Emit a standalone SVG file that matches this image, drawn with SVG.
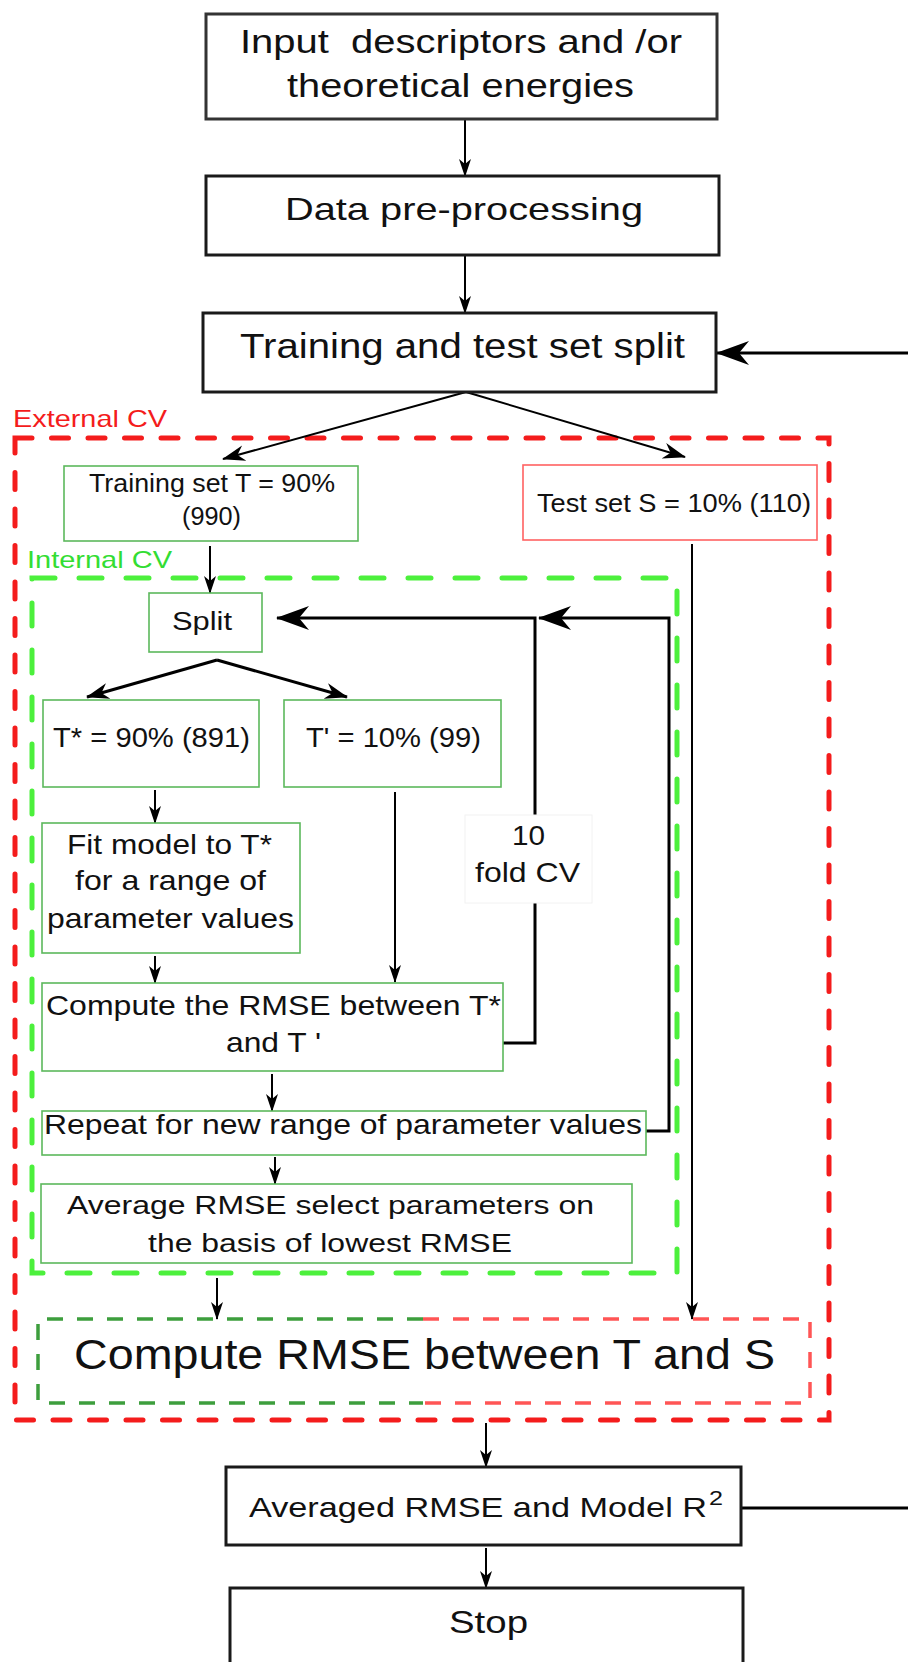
<svg xmlns="http://www.w3.org/2000/svg" width="908" height="1662" viewBox="0 0 908 1662">
<style>
text{font-family:"Liberation Sans",Arial,Helvetica,sans-serif;fill:#111}
.bk{fill:#fff;stroke:#1a1a1a;stroke-width:3}
.gn{fill:#fff;stroke:#5cb85c;stroke-width:1.6}
.rn{fill:#fff;stroke:#ff6262;stroke-width:1.6}
.c{fill:none;stroke:#000;stroke-width:2}
.c3{fill:none;stroke:#000;stroke-width:3}
.ext{fill:none;stroke:#f41c1c;stroke-width:5;stroke-dasharray:17 19.5;stroke-linecap:round}
.int{fill:none;stroke:#4cf03c;stroke-width:5;stroke-dasharray:23 24;stroke-linecap:round}
.dg{fill:none;stroke:#3d9e3d;stroke-width:3.5;stroke-dasharray:16 14}
.dr{fill:none;stroke:#ff5555;stroke-width:3.5;stroke-dasharray:16 14}
</style>
<defs>
<marker id="as" viewBox="-20 -10 22 20" refX="0" refY="0" markerWidth="22" markerHeight="20" markerUnits="userSpaceOnUse" orient="auto"><path d="M1,0 L-17,-6 L-12,0 L-17,6 Z" fill="#000"/></marker>
<marker id="am" viewBox="-26 -12 28 24" refX="0" refY="0" markerWidth="28" markerHeight="24" markerUnits="userSpaceOnUse" orient="auto"><path d="M1,0 L-22,-8 L-15,0 L-22,8 Z" fill="#000"/></marker>
<marker id="al" viewBox="-36 -14 38 28" refX="0" refY="0" markerWidth="38" markerHeight="28" markerUnits="userSpaceOnUse" orient="auto"><path d="M1,0 L-32,-12 L-22,0 L-32,12 Z" fill="#000"/></marker>
</defs>

<g id="external-cv">
<rect class="ext" x="15" y="438" width="814" height="982"/>
<text x="13" y="427" font-size="24" fill="#f41c1c" style="fill:#f41c1c" textLength="154" lengthAdjust="spacingAndGlyphs">External CV</text>
</g>
<g id="internal-cv">
<rect class="int" x="32" y="578" width="645" height="695"/>
<text x="27" y="568" font-size="24" style="fill:#33dd33" textLength="145" lengthAdjust="spacingAndGlyphs">Internal CV</text>
</g>

<g id="connectors">
<line class="c" x1="465" y1="119" x2="465" y2="176" marker-end="url(#as)"/>
<line class="c" x1="465" y1="255" x2="465" y2="313" marker-end="url(#as)"/>
<line class="c3" x1="908" y1="353" x2="717" y2="353" marker-end="url(#al)"/>
<line class="c" x1="466" y1="392" x2="223" y2="459" stroke-width="2.5" marker-end="url(#am)"/>
<line class="c" x1="466" y1="392" x2="685" y2="457" stroke-width="2.5" marker-end="url(#am)"/>
<line class="c" x1="210" y1="546" x2="210" y2="593" marker-end="url(#as)"/>
<line class="c3" x1="217" y1="660" x2="87" y2="697" marker-end="url(#am)"/>
<line class="c3" x1="217" y1="660" x2="347" y2="697" marker-end="url(#am)"/>
<line class="c" x1="155" y1="790" x2="155" y2="823" marker-end="url(#as)"/>
<line class="c" x1="395" y1="792" x2="395" y2="982" marker-end="url(#as)"/>
<line class="c" x1="155" y1="956" x2="155" y2="983" marker-end="url(#as)"/>
<line class="c" x1="272" y1="1074" x2="272" y2="1111" marker-end="url(#as)"/>
<line class="c" x1="275" y1="1157" x2="275" y2="1184" marker-end="url(#as)"/>
<polyline class="c3" points="503,1043 535,1043 535,618 277,618" marker-end="url(#al)"/>
<polyline class="c3" points="646,1131 669,1131 669,618 539,618" marker-end="url(#al)"/>
<line class="c" x1="692" y1="544" x2="692" y2="1319" marker-end="url(#as)"/>
<line class="c" x1="217" y1="1278" x2="217" y2="1319" marker-end="url(#as)"/>
<line class="c" x1="486" y1="1423" x2="486" y2="1467" marker-end="url(#as)"/>
<line class="c" x1="486" y1="1548" x2="486" y2="1588" marker-end="url(#as)"/>
<line class="c3" x1="741" y1="1508" x2="908" y2="1508"/>
</g>

<g id="n-input">
<rect class="bk" x="206" y="14" width="511" height="105" style="stroke:#333"/>
<text x="240" y="53" font-size="33" textLength="442" lengthAdjust="spacingAndGlyphs" xml:space="preserve">Input  descriptors and /or</text>
<text x="287" y="97" font-size="33" textLength="347" lengthAdjust="spacingAndGlyphs">theoretical energies</text>
</g>
<g id="n-preproc">
<rect class="bk" x="206" y="176" width="513" height="79"/>
<text x="285" y="220" font-size="32" textLength="358" lengthAdjust="spacingAndGlyphs">Data pre-processing</text>
</g>
<g id="n-split-ext">
<rect class="bk" x="203" y="313" width="513" height="79"/>
<text x="240" y="358" font-size="35" textLength="445" lengthAdjust="spacingAndGlyphs">Training and test set split</text>
</g>
<g id="n-training">
<rect class="gn" x="64" y="466" width="294" height="75"/>
<text x="89" y="492" font-size="25" textLength="246" lengthAdjust="spacingAndGlyphs">Training set T = 90%</text>
<text x="182" y="525" font-size="25" textLength="59" lengthAdjust="spacingAndGlyphs">(990)</text>
</g>
<g id="n-test">
<rect class="rn" x="523" y="465" width="294" height="75"/>
<text x="537" y="512" font-size="25" textLength="274" lengthAdjust="spacingAndGlyphs">Test set S = 10% (110)</text>
</g>
<g id="n-split">
<rect class="gn" x="149" y="593" width="113" height="59"/>
<text x="172" y="630" font-size="26" textLength="60" lengthAdjust="spacingAndGlyphs">Split</text>
</g>
<g id="n-tstar">
<rect class="gn" x="43" y="700" width="216" height="87"/>
<text x="53" y="747" font-size="27" textLength="197" lengthAdjust="spacingAndGlyphs">T* = 90% (891)</text>
</g>
<g id="n-tprime">
<rect class="gn" x="284" y="700" width="217" height="87"/>
<text x="306" y="747" font-size="27" textLength="175" lengthAdjust="spacingAndGlyphs">T' = 10% (99)</text>
</g>
<g id="n-fit">
<rect class="gn" x="42" y="823" width="258" height="130"/>
<text x="67" y="854" font-size="28" textLength="205" lengthAdjust="spacingAndGlyphs">Fit model to T*</text>
<text x="75" y="890" font-size="28" textLength="191" lengthAdjust="spacingAndGlyphs">for a range of</text>
<text x="47" y="928" font-size="28" textLength="247" lengthAdjust="spacingAndGlyphs">parameter values</text>
</g>
<g id="n-fold">
<rect x="465" y="815" width="127" height="88" fill="#fff" stroke="#f2f2f2" stroke-width="1"/>
<text x="512" y="845" font-size="28" textLength="33" lengthAdjust="spacingAndGlyphs">10</text>
<text x="475" y="882" font-size="28" textLength="105" lengthAdjust="spacingAndGlyphs">fold CV</text>
</g>
<g id="n-compute">
<rect class="gn" x="42" y="983" width="461" height="88"/>
<text x="46" y="1015" font-size="28" textLength="455" lengthAdjust="spacingAndGlyphs">Compute the RMSE between T*</text>
<text x="226" y="1052" font-size="28" textLength="95" lengthAdjust="spacingAndGlyphs">and T '</text>
</g>
<g id="n-repeat">
<rect class="gn" x="42" y="1111" width="604" height="44"/>
<text x="44" y="1134" font-size="28" textLength="598" lengthAdjust="spacingAndGlyphs">Repeat for new range of parameter values</text>
</g>
<g id="n-average">
<rect class="gn" x="41" y="1184" width="591" height="79"/>
<text x="67" y="1214" font-size="26.5" textLength="527" lengthAdjust="spacingAndGlyphs">Average RMSE select parameters on</text>
<text x="148" y="1252" font-size="26.5" textLength="364" lengthAdjust="spacingAndGlyphs">the basis of lowest RMSE</text>
</g>
<g id="n-cts">
<path class="dg" d="M423,1319 H38 V1403 H423"/>
<path class="dr" d="M423,1319 H810 V1403 H423"/>
<text x="74" y="1369" font-size="43" textLength="701" lengthAdjust="spacingAndGlyphs">Compute RMSE between T and S</text>
</g>
<g id="n-averaged">
<rect class="bk" x="226" y="1467" width="515" height="78"/>
<text x="249" y="1517" font-size="28" textLength="458" lengthAdjust="spacingAndGlyphs">Averaged RMSE and Model R</text>
<text x="709" y="1505" font-size="20" textLength="14" lengthAdjust="spacingAndGlyphs">2</text>
</g>
<g id="n-stop">
<rect class="bk" x="230" y="1588" width="513" height="90"/>
<text x="449" y="1633" font-size="32" textLength="79" lengthAdjust="spacingAndGlyphs">Stop</text>
</g>
</svg>
